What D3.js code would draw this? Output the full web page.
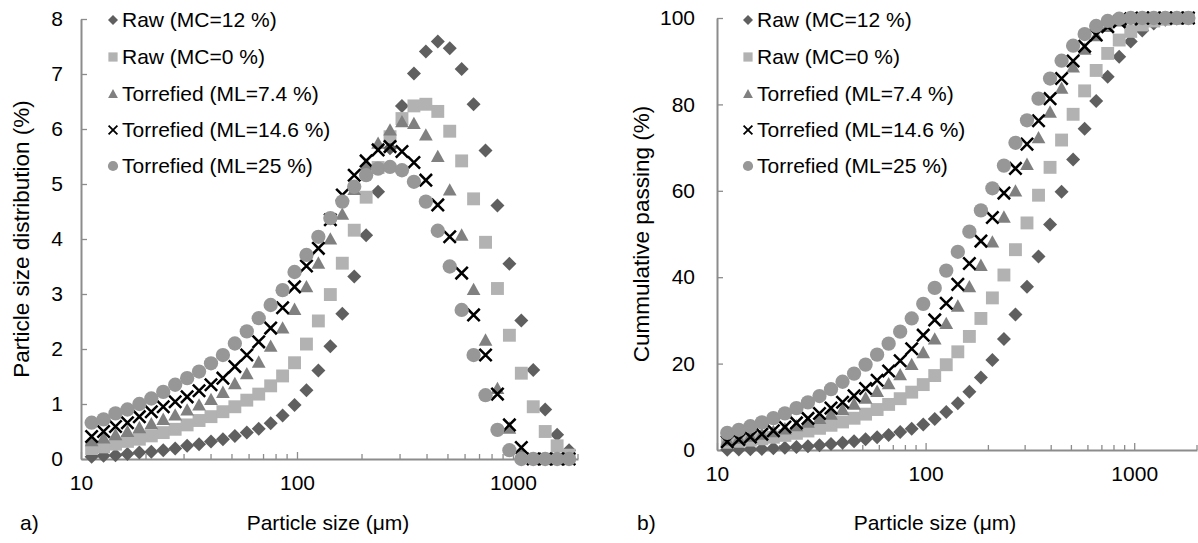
<!DOCTYPE html>
<html>
<head>
<meta charset="utf-8">
<script src="https://cdn.jsdelivr.net/npm/d3@7"></script>
<style>
  html, body { margin: 0; padding: 0; background: #fff; }
  svg { display: block; font-family: "Liberation Sans", Arial, sans-serif; }
</style>
</head>
<body>
<svg id="chart" width="1198" height="543"></svg>
<script>
// ---------------- DATA ----------------
const sizes = [11.2, 12.72, 14.45, 16.41, 18.63, 21.16, 24.03, 27.29, 31.0, 35.2,
  39.98, 45.4, 51.56, 58.56, 66.5, 75.53, 85.78, 97.42, 110.6, 125.6,
  142.7, 162.1, 184.1, 209.0, 237.4, 269.6, 306.2, 347.8, 395.0, 448.6,
  509.5, 578.6, 657.1, 746.3, 847.5, 962.5, 1093, 1241, 1410, 1601, 1818];

const seriesNames = ["Raw (MC=12 %)", "Raw (MC=0 %)", "Torrefied (ML=7.4 %)", "Torrefied (ML=14.6 %)", "Torrefied (ML=25 %)"];

// particle size distribution (%)
const distRaw12 = [0.04,0.06,0.07,0.09,0.12,0.13,0.16,0.19,0.24,0.27,
  0.32,0.36,0.42,0.48,0.55,0.65,0.79,0.98,1.25,1.61,
  2.05,2.64,3.32,4.07,4.86,5.65,6.42,7.01,7.41,7.59,
  7.47,7.09,6.45,5.61,4.61,3.55,2.52,1.62,0.90,0.44,0.16];
const distRaw0 = [0.19,0.22,0.27,0.32,0.36,0.42,0.48,0.54,0.62,0.70,
  0.77,0.86,0.95,1.07,1.18,1.33,1.51,1.75,2.09,2.51,
  2.99,3.56,4.16,4.76,5.30,5.86,6.19,6.42,6.45,6.32,
  5.96,5.42,4.73,3.94,3.10,2.25,1.56,0.95,0.50,0.24,0.07];
const distT74 = [0.33,0.38,0.44,0.50,0.57,0.64,0.72,0.80,0.89,0.98,
  1.08,1.21,1.37,1.55,1.76,2.05,2.38,2.72,3.13,3.56,
  4.00,4.45,4.90,5.35,5.74,5.98,6.13,6.10,5.89,5.50,
  4.89,4.07,3.08,2.16,1.28,0.56,0.10,0,0,0,0];
const distT146 = [0.41,0.50,0.59,0.66,0.77,0.86,0.95,1.04,1.13,1.24,
  1.35,1.47,1.68,1.89,2.13,2.38,2.75,3.13,3.51,3.83,
  4.35,4.80,5.16,5.42,5.62,5.68,5.59,5.39,5.07,4.62,
  4.04,3.38,2.62,1.89,1.18,0.62,0.21,0,0,0,0];
const distT25 = [0.66,0.72,0.83,0.90,1.00,1.10,1.22,1.35,1.47,1.59,
  1.74,1.89,2.10,2.32,2.56,2.80,3.07,3.40,3.71,4.04,
  4.38,4.68,4.95,5.16,5.28,5.31,5.25,5.04,4.68,4.15,
  3.50,2.71,1.89,1.16,0.53,0.16,0,0,0,0,0];

// cumulative passing (%)
const cumRaw12 = [0.04,0.10,0.17,0.26,0.38,0.51,0.67,0.86,1.10,1.37,
  1.69,2.05,2.47,2.95,3.50,4.15,4.94,5.92,7.17,8.78,
  10.83,13.47,16.79,20.86,25.72,31.37,37.79,44.80,52.21,59.80,
  67.27,74.36,80.81,86.42,91.03,94.58,97.10,98.72,99.62,99.9,100];
const cumRaw0 = [1.79,2.01,2.28,2.60,2.96,3.38,3.86,4.40,5.02,5.72,
  6.49,7.35,8.30,9.37,10.55,11.88,13.39,15.14,17.23,19.74,
  22.73,26.29,30.45,35.21,40.51,46.37,52.56,58.98,65.43,71.75,
  77.71,83.13,87.86,91.8,94.9,96.9,98.4,99.3,99.7,99.9,100];
const cumT74 = [2.33,2.72,3.16,3.66,4.24,4.88,5.61,6.41,7.31,8.30,
  9.39,10.61,11.99,13.55,15.32,17.39,19.79,22.53,25.68,29.27,
  33.30,37.79,42.73,48.12,53.90,59.93,66.11,72.25,78.19,83.73,
  88.66,92.76,95.87,98.04,99.33,99.9,100,100,100,100,100];
const cumT146 = [1.91,2.42,3.01,3.67,4.45,5.31,6.27,7.31,8.45,9.70,
  11.06,12.54,14.23,16.13,18.27,20.66,23.43,26.58,30.11,33.96,
  38.34,43.17,48.36,53.81,59.47,65.18,70.80,76.23,81.33,85.98,
  90.04,93.44,96.08,97.98,99.16,99.79,100,100,100,100,100];
const cumT25 = [3.96,4.67,5.50,6.39,7.38,8.48,9.69,11.03,12.49,14.07,
  15.80,17.68,19.77,22.07,24.62,27.40,30.45,33.83,37.52,41.53,
  45.88,50.54,55.46,60.58,65.83,71.11,76.32,81.33,85.98,90.11,
  93.59,96.28,98.16,99.31,99.84,100,100,100,100,100,100];

const xTickValues = [10, 100, 1000];
const yTicksA = [0, 1, 2, 3, 4, 5, 6, 7, 8];
const yTicksB = [0, 20, 40, 60, 80, 100];

// ---------------- STYLE ----------------
const markerStyles = [
  { type: "diamond", color: "#5f5f5f" },
  { type: "square", color: "#b2b2b2" },
  { type: "triangle", color: "#808080" },
  { type: "cross", color: "#000000" },
  { type: "circle", color: "#979797" }
];
const axisColor = "#8c8c8c";
const FONT = 21;
const TITLE_FONT = 22.5;

const svg = d3.select("#chart");
svg.append("rect").attr("width", 1198).attr("height", 543).attr("fill", "#fff");

function drawMarker(g, type, color, x, y, s) {
  const h = s / 2;
  if (type === "diamond") {
    g.append("path").attr("d", `M${x},${y - h}L${x + h},${y}L${x},${y + h}L${x - h},${y}Z`).attr("fill", color);
  } else if (type === "square") {
    const q = h * 0.92;
    g.append("rect").attr("x", x - q).attr("y", y - q).attr("width", 2 * q).attr("height", 2 * q).attr("fill", color);
  } else if (type === "triangle") {
    const t = h * 0.98;
    g.append("path").attr("d", `M${x},${y - t}L${x + t},${y + t * 0.8}L${x - t},${y + t * 0.8}Z`).attr("fill", color);
  } else if (type === "cross") {
    const c = h * 0.88;
    g.append("path").attr("d", `M${x - c},${y - c}L${x + c},${y + c}M${x - c},${y + c}L${x + c},${y - c}`)
      .attr("stroke", color).attr("stroke-width", s * 0.18).attr("fill", "none");
  } else if (type === "circle") {
    g.append("circle").attr("cx", x).attr("cy", y).attr("r", h * 1.02).attr("fill", color);
  }
}

function panel(opts) {
  const { x0, x1, yTop, yBot, yDomain, yTicks, series, yTitle, yTitleX, panelLabel, panelLabelX, xTitleX, legendX, yLabelGap } = opts;
  const g = svg.append("g");
  const x = d3.scaleLog().domain([10, 2000]).range([x0, x1]);
  const y = d3.scaleLinear().domain(yDomain).range([yBot, yTop]);

  // minor ticks on x (inside)
  const minor = [];
  [10, 100, 1000].forEach(d => { for (let k = 2; k <= 9; k++) { const v = d * k; if (v <= 2000) minor.push(v); } });
  g.append("g").selectAll("line").data(minor).join("line")
    .attr("x1", d => x(d)).attr("x2", d => x(d))
    .attr("y1", yBot).attr("y2", yBot - 5)
    .attr("stroke", axisColor).attr("stroke-width", 1.3);

  // x axis
  const xAxis = d3.axisBottom(x).tickValues(xTickValues).tickFormat(d3.format("d")).tickSizeInner(-7).tickSizeOuter(0).tickPadding(16);
  const gx = g.append("g").attr("transform", `translate(0,${yBot})`).call(xAxis);
  gx.select(".domain").attr("stroke", axisColor).attr("stroke-width", 2);
  gx.selectAll(".tick line").attr("stroke", axisColor).attr("stroke-width", 1.3);
  gx.selectAll(".tick text").attr("font-size", FONT).attr("fill", "#000").attr("font-family", "Liberation Sans, Arial, sans-serif");

  // y axis
  const yAxis = d3.axisLeft(y).tickValues(yTicks).tickSizeInner(-6).tickSizeOuter(0).tickPadding(yLabelGap);
  const gy = g.append("g").attr("transform", `translate(${x0},0)`).call(yAxis);
  gy.select(".domain").attr("stroke", axisColor).attr("stroke-width", 2);
  gy.selectAll(".tick line").attr("stroke", axisColor).attr("stroke-width", 1.3);
  gy.selectAll(".tick text").attr("font-size", FONT).attr("fill", "#000").attr("font-family", "Liberation Sans, Arial, sans-serif");

  // data markers
  const gm = g.append("g");
  series.forEach((vals, si) => {
    const st = markerStyles[si];
    vals.forEach((v, i) => drawMarker(gm, st.type, st.color, x(sizes[i]), y(v), 14));
  });

  // legend
  const lg = g.append("g");
  const rows = [20, 57, 94, 130, 166];
  seriesNames.forEach((name, i) => {
    const st = markerStyles[i];
    drawMarker(lg, st.type, st.color, legendX, rows[i], 10);
    lg.append("text").attr("x", legendX + 9).attr("y", rows[i]).attr("dy", "0.35em")
      .attr("font-size", FONT).attr("fill", "#000").text(name);
  });

  // titles
  g.append("text").attr("transform", `translate(${yTitleX},${(yTop + yBot) / 2}) rotate(-90)`)
    .attr("text-anchor", "middle").attr("dy", "0.35em").attr("font-size", TITLE_FONT).text(yTitle);
  g.append("text").attr("x", xTitleX).attr("y", 523).attr("dy", "0.35em").attr("text-anchor", "middle")
    .attr("font-size", FONT).text("Particle size (μm)");
  g.append("text").attr("x", panelLabelX).attr("y", 523).attr("dy", "0.35em")
    .attr("font-size", FONT).text(panelLabel);
}

panel({
  x0: 81, x1: 578, yTop: 19, yBot: 459, yDomain: [0, 8], yTicks: yTicksA,
  series: [distRaw12, distRaw0, distT74, distT146, distT25],
  yTitle: "Particle size distribution (%)", yTitleX: 21,
  panelLabel: "a)", panelLabelX: 20, xTitleX: 328, legendX: 113, yLabelGap: 18
});
panel({
  x0: 717, x1: 1197, yTop: 18, yBot: 450, yDomain: [0, 100], yTicks: yTicksB,
  series: [cumRaw12, cumRaw0, cumT74, cumT146, cumT25],
  yTitle: "Cummulative passing (%)", yTitleX: 641,
  panelLabel: "b)", panelLabelX: 637, xTitleX: 935, legendX: 748, yLabelGap: 22
});
</script>
</body>
</html>
